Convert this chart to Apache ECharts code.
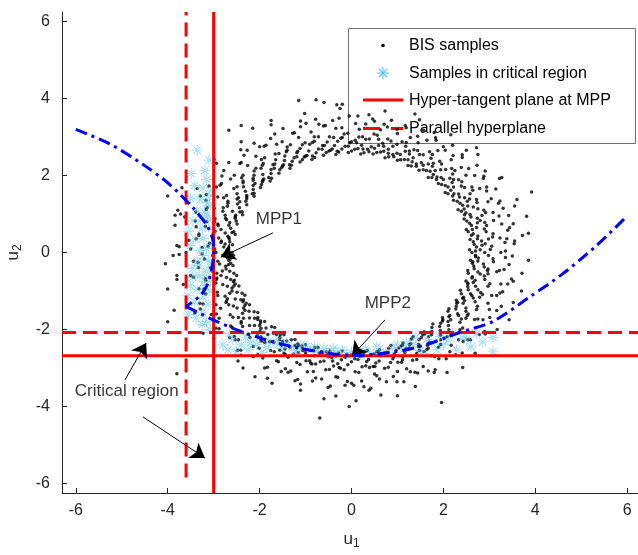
<!DOCTYPE html>
<html>
<head>
<meta charset="utf-8">
<script src="https://cdn.jsdelivr.net/npm/echarts@6/dist/echarts.min.js"></script>
<style>
  html, body { margin: 0; padding: 0; background: #fff; }
  #chart { width: 638px; height: 555px; }
</style>
</head>
<body>
<div id="chart"></div>
<script>
var axisTicks = [-6, -4, -2, 0, 2, 4, 6];

// BIS samples (u1, u2)
var bisSamples = [
  [2.62,0],[2.9,0],[3.25,0],[2.72,0.14],[3.05,0.16],[2.65,0.28],[2.83,0.30],[3.38,0.36],
  [2.75,0.43],[3.08,0.49],[2.54,0.54],[2.89,0.61],[3.52,0.75],[2.61,0.70],[2.90,0.78],[3.09,0.83],
  [2.51,0.82],[2.74,0.89],[2.58,0.99],[2.88,1.10],[3.60,1.38],[2.39,1.07],[2.65,1.18],[2.97,1.32],
  [2.42,1.23],[2.72,1.38],[2.30,1.33],[2.46,1.42],[2.94,1.70],[2.33,1.52],[2.62,1.70],
  [2.10,1.53],[2.39,1.73],[2.91,2.12],[2.10,1.70],[2.33,1.89],[2.49,2.01],[1.96,1.77],[2.14,1.93],
  [1.95,1.95],[2.18,2.18],[2.72,2.72],[1.75,1.95],[1.94,2.15],[2.17,2.41],[1.71,2.11],[1.92,2.37],
  [1.56,2.15],[1.67,2.30],[2.00,2.75],[1.52,2.33],[1.70,2.62],[1.30,2.25],[1.48,2.55],[1.80,3.12],
  [1.23,2.41],[1.36,2.67],[1.45,2.85],[1.07,2.41],[1.17,2.63],[0.99,2.58],[1.10,2.88],[1.38,3.60],
  [0.81,2.49],[0.90,2.76],[1.00,3.09],[0.70,2.63],[0.79,2.95],[0.55,2.60],[0.59,2.78],[0.71,3.33],
  [0.43,2.75],[0.49,3.08],[0.27,2.59],[0.31,2.94],[0.38,3.58],[0.14,2.70],[0.16,3.00],[0.17,3.20],
  [0,2.64],[0,2.88],[-0.14,2.76],[-0.16,3.08],[-0.20,3.85],[-0.28,2.61],[-0.30,2.89],[-0.34,3.23],
  [-0.42,2.69],[-0.48,3.01],[-0.55,2.60],[-0.59,2.78],[-0.71,3.33],[-0.72,2.69],[-0.81,3.01],
  [-0.80,2.47],[-0.91,2.81],[-1.11,3.42],[-0.97,2.52],[-1.07,2.80],[-1.15,2.99],[-1.07,2.41],[-1.17,2.63],
  [-1.25,2.46],[-1.40,2.74],[-1.75,3.43],[-1.31,2.27],[-1.45,2.51],[-1.63,2.81],[-1.48,2.28],[-1.66,2.56],
  [-1.56,2.15],[-1.67,2.30],[-2.00,2.75],[-1.75,2.16],[-1.96,2.42],[-1.74,1.93],[-1.97,2.19],[-2.41,2.67],
  [-1.91,1.91],[-2.12,2.12],[-2.26,2.26],[-1.96,1.77],[-2.14,1.93],[-2.14,1.74],[-2.39,1.94],[-2.99,2.42],
  [-2.12,1.54],[-2.35,1.71],[-2.63,1.91],[-2.28,1.48],[-2.56,1.66],[-2.30,1.33],[-2.46,1.42],[-2.94,1.70],
  [-2.48,1.26],[-2.78,1.42],[-2.38,1.06],[-2.70,1.20],[-3.29,1.47],[-2.52,0.97],[-2.80,1.07],[-2.99,1.15],
  [-2.51,0.82],[-2.74,0.89],[-2.67,0.71],[-2.98,0.80],[-3.72,1.00],[-2.56,0.54],[-2.84,0.60],[-3.18,0.68],
  [-2.69,0.42],[-3.01,0.48],[-2.65,0.28],[-2.83,0.30],[-3.38,0.36],[-2.78,0.14],[-3.12,0.16],
  [-2.60,0],[-2.95,0],[-3.60,0],[-2.70,-0.14],[-3.00,-0.16],[-3.20,-0.17],[-2.63,-0.28],[-2.87,-0.30],
  [-2.73,-0.43],[-3.04,-0.48],[-3.80,-0.60],[-2.56,-0.54],[-2.84,-0.60],[-3.18,-0.68],[-2.63,-0.70],[-2.95,-0.79],
  [-2.53,-0.82],[-2.70,-0.88],[-3.23,-1.05],[-2.60,-1.00],[-2.91,-1.12],[-2.38,-1.06],[-2.70,-1.20],[-3.29,-1.47],
  [-2.41,-1.23],[-2.67,-1.36],[-2.85,-1.45],[-2.29,-1.32],[-2.49,-1.44],[-2.32,-1.50],[-2.58,-1.68],[-3.23,-2.10],
  [-2.12,-1.54],[-2.35,-1.71],[-2.63,-1.91],[-2.11,-1.71],[-2.37,-1.92],[-1.98,-1.78],[-2.11,-1.90],[-2.53,-2.27],
  [-1.97,-1.97],[-2.21,-2.21],[-1.74,-1.93],[-1.97,-2.19],[-2.41,-2.67],[-1.70,-2.10],[-1.89,-2.33],[-2.01,-2.49],
  [-1.55,-2.14],[-1.69,-2.33],[-1.50,-2.32],[-1.68,-2.58],[-2.10,-3.23],[-1.31,-2.27],[-1.45,-2.51],[-1.63,-2.81],
  [-1.23,-2.42],[-1.38,-2.72],[-1.08,-2.43],[-1.16,-2.60],[-1.38,-3.11],[-1.00,-2.60],[-1.12,-2.91],
  [-0.80,-2.47],[-0.91,-2.81],[-1.11,-3.42],[-0.70,-2.61],[-0.78,-2.90],[-0.83,-3.09],[-0.55,-2.58],[-0.60,-2.82],
  [-0.43,-2.73],[-0.48,-3.04],[-0.60,-3.80],[-0.28,-2.61],[-0.30,-2.89],[-0.34,-3.23],[-0.14,-2.72],[-0.16,-3.05],
  [0,-2.66],[0,-2.84],[0,-3.40],[0.14,-2.78],[0.16,-3.12],[0.27,-2.59],[0.31,-2.94],[0.38,-3.58],
  [0.42,-2.67],[0.47,-2.96],[0.50,-3.16],[0.55,-2.58],[0.60,-2.82],[0.71,-2.67],[0.80,-2.98],[1.00,-3.72],
  [0.81,-2.49],[0.90,-2.76],[1.00,-3.09],[0.97,-2.54],[1.09,-2.85],[1.08,-2.43],[1.16,-2.60],[1.38,-3.11],
  [1.26,-2.48],[1.42,-2.78],[1.30,-2.25],[1.48,-2.55],[1.80,-3.12],[1.47,-2.27],[1.64,-2.52],[1.74,-2.68],
  [1.55,-2.14],[1.69,-2.33],[1.74,-2.14],[1.94,-2.39],[2.42,-2.99],[1.75,-1.95],[1.94,-2.15],[2.17,-2.41],
  [1.92,-1.92],[2.16,-2.16],[1.98,-1.78],[2.11,-1.90],[2.53,-2.27],[2.16,-1.75],[2.42,-1.96],
  [2.10,-1.53],[2.39,-1.73],[2.91,-2.12],[2.27,-1.47],[2.52,-1.64],[2.68,-1.74],[2.29,-1.32],[2.49,-1.44],
  [2.46,-1.25],[2.74,-1.40],[3.43,-1.75],[2.39,-1.07],[2.65,-1.18],[2.97,-1.32],[2.54,-0.97],[2.85,-1.09],
  [2.53,-0.82],[2.70,-0.88],[3.23,-1.05],[2.69,-0.72],[3.01,-0.81],[2.54,-0.54],[2.89,-0.61],[3.52,-0.75],
  [2.67,-0.42],[2.96,-0.47],[3.16,-0.50],[2.63,-0.28],[2.87,-0.30],[2.76,-0.14],[3.08,-0.16],[3.85,-0.20],
  [2.57,0.07],[2.80,0.07],[3.02,0.08],[2.67,0.21],[2.91,0.23],[3.34,0.26],[2.58,0.34],[2.74,0.36],[3.07,0.40],
  [2.65,0.49],[2.93,0.54],[3.44,0.64],[2.50,0.60],[2.72,0.65],[2.94,0.70],[2.57,0.76],[2.80,0.83],[3.21,0.95],
  [2.45,0.87],[2.60,0.92],[2.92,1.03],[2.49,1.03],[2.75,1.14],[3.23,1.34],[2.32,1.11],[2.53,1.21],[2.73,1.30],
  [2.36,1.28],[2.57,1.39],[2.94,1.60],[2.22,1.36],[2.35,1.44],[2.64,1.62],[2.23,1.53],[2.46,1.69],[2.88,1.98],
  [2.04,1.56],[2.22,1.70],[2.40,1.84],[2.04,1.74],[2.22,1.90],[2.55,2.18],[1.89,1.79],[2.00,1.90],[2.25,2.13],
  [1.86,1.96],[2.05,2.16],[2.41,2.54],[1.67,1.95],[1.82,2.13],[1.96,2.30],[1.63,2.13],[1.78,2.32],[2.04,2.66],
  [1.47,2.14],[1.56,2.27],[1.76,2.55],[1.41,2.30],[1.56,2.54],[1.83,2.98],[1.23,2.26],[1.34,2.46],[1.44,2.65],
  [1.15,2.42],[1.26,2.64],[1.44,3.02],[1.00,2.40],[1.06,2.55],[1.19,2.86],[0.90,2.55],[0.99,2.81],[1.17,3.30],
  [0.73,2.46],[0.80,2.68],[0.86,2.90],[0.63,2.61],[0.68,2.84],[0.78,3.26],[0.47,2.56],[0.50,2.71],[0.56,3.05],
  [0.35,2.68],[0.39,2.95],[0.46,3.47],[0.20,2.56],[0.22,2.79],[0.24,3.01],[0.07,2.68],[0.08,2.92],[0.09,3.35],
  [-0.07,2.60],[-0.07,2.76],[-0.08,3.10],[-0.21,2.69],[-0.23,2.97],[-0.27,3.49],[-0.34,2.55],[-0.37,2.78],[-0.39,2.99],
  [-0.49,2.64],[-0.53,2.87],[-0.61,3.29],[-0.61,2.53],[-0.64,2.68],[-0.72,3.01],[-0.77,2.59],[-0.85,2.86],[-0.99,3.36],
  [-0.86,2.42],[-0.93,2.64],[-1.01,2.85],[-1.03,2.48],[-1.12,2.70],[-1.28,3.10],[-1.12,2.35],[-1.19,2.49],[-1.33,2.80],
  [-1.29,2.37],[-1.42,2.62],[-1.67,3.08],[-1.34,2.19],[-1.46,2.39],[-1.58,2.57],[-1.52,2.21],[-1.65,2.41],[-1.90,2.76],
  [-1.58,2.06],[-1.68,2.19],[-1.89,2.46],[-1.75,2.05],[-1.94,2.27],[-2.27,2.66],[-1.77,1.86],[-1.93,2.03],[-2.08,2.19],
  [-1.94,1.84],[-2.12,2.01],[-2.43,2.31],[-1.98,1.69],[-2.10,1.79],[-2.36,2.01],[-2.14,1.64],[-2.36,1.81],[-2.78,2.13],
  [-2.12,1.46],[-2.31,1.59],[-2.49,1.71],[-2.28,1.40],[-2.49,1.53],[-2.86,1.75],[-2.28,1.24],[-2.43,1.32],[-2.72,1.48],
  [-2.44,1.16],[-2.69,1.28],[-3.16,1.51],[-2.37,0.98],[-2.59,1.07],[-2.79,1.16],[-2.53,0.89],[-2.75,0.97],[-3.16,1.12],
  [-2.49,0.74],[-2.65,0.78],[-2.97,0.88],[-2.63,0.63],[-2.90,0.70],[-3.40,0.82],[-2.53,0.47],[-2.75,0.51],[-2.97,0.55],
  [-2.66,0.35],[-2.89,0.38],[-3.32,0.44],[-2.59,0.20],[-2.75,0.22],[-3.09,0.24],[-2.70,0.07],[-2.98,0.08],[-3.50,0.09],
  [-2.57,-0.07],[-2.80,-0.07],[-3.02,-0.08],[-2.67,-0.21],[-2.91,-0.23],[-3.34,-0.26],[-2.58,-0.34],[-2.74,-0.36],[-3.07,-0.40],
  [-2.65,-0.49],[-2.93,-0.54],[-3.44,-0.64],[-2.50,-0.60],[-2.72,-0.65],[-2.94,-0.70],[-2.57,-0.76],[-2.80,-0.83],[-3.21,-0.95],
  [-2.45,-0.87],[-2.60,-0.92],[-2.92,-1.03],[-2.49,-1.03],[-2.75,-1.14],[-3.23,-1.34],[-2.32,-1.11],[-2.53,-1.21],[-2.73,-1.30],
  [-2.36,-1.28],[-2.57,-1.39],[-2.94,-1.60],[-2.22,-1.36],[-2.35,-1.44],[-2.64,-1.62],[-2.23,-1.53],[-2.46,-1.69],[-2.88,-1.98],
  [-2.04,-1.56],[-2.22,-1.70],[-2.40,-1.84],[-2.04,-1.74],[-2.22,-1.90],[-2.55,-2.18],[-1.89,-1.79],[-2.00,-1.90],[-2.25,-2.13],
  [-1.86,-1.96],[-2.05,-2.16],[-2.41,-2.54],[-1.67,-1.95],[-1.82,-2.13],[-1.96,-2.30],[-1.63,-2.13],[-1.78,-2.32],[-2.04,-2.66],
  [-1.47,-2.14],[-1.56,-2.27],[-1.76,-2.55],[-1.41,-2.30],[-1.56,-2.54],[-1.83,-2.98],[-1.23,-2.26],[-1.34,-2.46],[-1.44,-2.65],
  [-1.15,-2.42],[-1.26,-2.64],[-1.44,-3.02],[-1.00,-2.40],[-1.06,-2.55],[-1.19,-2.86],[-0.90,-2.55],[-0.99,-2.81],[-1.17,-3.30],
  [-0.73,-2.46],[-0.80,-2.68],[-0.86,-2.90],[-0.63,-2.61],[-0.68,-2.84],[-0.78,-3.26],[-0.47,-2.56],[-0.50,-2.71],[-0.56,-3.05],
  [-0.35,-2.68],[-0.39,-2.95],[-0.46,-3.47],[-0.20,-2.56],[-0.22,-2.79],[-0.24,-3.01],[-0.07,-2.68],[-0.08,-2.92],[-0.09,-3.35],
  [0.07,-2.60],[0.07,-2.76],[0.08,-3.10],[0.21,-2.69],[0.23,-2.97],[0.27,-3.49],[0.34,-2.55],[0.37,-2.78],[0.39,-2.99],
  [0.49,-2.64],[0.53,-2.87],[0.61,-3.29],[0.61,-2.53],[0.64,-2.68],[0.72,-3.01],[0.77,-2.59],[0.85,-2.86],[0.99,-3.36],
  [0.86,-2.42],[0.93,-2.64],[1.01,-2.85],[1.03,-2.48],[1.12,-2.70],[1.28,-3.10],[1.12,-2.35],[1.19,-2.49],[1.33,-2.80],
  [1.29,-2.37],[1.42,-2.62],[1.67,-3.08],[1.34,-2.19],[1.46,-2.39],[1.58,-2.57],[1.52,-2.21],[1.65,-2.41],[1.90,-2.76],
  [1.58,-2.06],[1.68,-2.19],[1.89,-2.46],[1.75,-2.05],[1.94,-2.27],[2.27,-2.66],[1.77,-1.86],[1.93,-2.03],[2.08,-2.19],
  [1.94,-1.84],[2.12,-2.01],[2.43,-2.31],[1.98,-1.69],[2.10,-1.79],[2.36,-2.01],[2.14,-1.64],[2.36,-1.81],[2.78,-2.13],
  [2.12,-1.46],[2.31,-1.59],[2.49,-1.71],[2.28,-1.40],[2.49,-1.53],[2.86,-1.75],[2.28,-1.24],[2.43,-1.32],[2.72,-1.48],
  [2.44,-1.16],[2.69,-1.28],[3.16,-1.51],[2.37,-0.98],[2.59,-1.07],[2.79,-1.16],[2.53,-0.89],[2.75,-0.97],[3.16,-1.12],
  [2.49,-0.74],[2.65,-0.78],[2.97,-0.88],[2.63,-0.63],[2.90,-0.70],[3.40,-0.82],[2.53,-0.47],[2.75,-0.51],[2.97,-0.55],
  [2.66,-0.35],[2.89,-0.38],[3.32,-0.44],[2.59,-0.20],[2.75,-0.22],[3.09,-0.24],[2.70,-0.07],[2.98,-0.08],[3.50,-0.09],
  [2.70,0.04],[3.35,0.04],[2.84,0.19],[3.54,0.23],[2.98,0.35],[3.23,0.38],[3.72,0.44],[2.61,0.45],[3.40,0.58],
  [2.63,0.60],[3.27,0.74],[2.74,0.77],[3.42,0.96],[2.84,0.96],[3.08,1.04],[3.55,1.21],[2.46,0.98],[3.20,1.28],
  [2.45,1.13],[3.04,1.40],[2.52,1.33],[3.14,1.65],[2.58,1.53],[2.79,1.66],[3.22,1.92],[2.20,1.47],[2.87,1.92],
  [2.16,1.62],[2.68,2.00],[2.19,1.82],[2.73,2.27],[2.20,2.04],[2.39,2.21],[2.75,2.55],[1.85,1.90],[2.41,2.47],
  [1.78,2.03],[2.21,2.52],[1.76,2.24],[2.20,2.79],[1.73,2.45],[1.88,2.65],[2.16,3.06],[1.41,2.24],[1.84,2.92],
  [1.32,2.36],[1.64,2.92],[1.26,2.56],[1.57,3.18],[1.18,2.76],[1.28,2.99],[1.48,3.45],[0.92,2.49],[1.19,3.24],
  [0.80,2.58],[0.99,3.20],[0.70,2.76],[0.87,3.44],[0.59,2.94],[0.63,3.19],[0.73,3.68],[0.38,2.62],[0.50,3.41],
  [0.25,2.69],[0.31,3.34],[0.11,2.85],[0.14,3.55],
  [-0.04,2.85],[-0.05,3.55],[-0.20,2.99],[-0.21,3.24],[-0.25,3.74],[-0.31,2.63],[-0.41,3.43],[-0.46,2.66],[-0.57,3.30],
  [-0.63,2.78],[-0.78,3.46],[-0.81,2.89],[-0.88,3.13],[-1.02,3.61],[-0.85,2.51],[-1.11,3.27],[-1.00,2.51],[-1.24,3.11],
  [-1.19,2.59],[-1.49,3.22],[-1.40,2.66],[-1.51,2.88],[-1.75,3.32],[-1.35,2.28],[-1.76,2.96],[-1.50,2.25],[-1.86,2.79],
  [-1.71,2.28],[-2.12,2.84],[-1.92,2.31],[-2.08,2.50],[-2.40,2.88],[-1.80,1.95],[-2.34,2.53],[-1.93,1.88],[-2.40,2.34],
  [-2.14,1.88],[-2.67,2.34],[-2.36,1.86],[-2.55,2.01],[-2.94,2.32],[-2.16,1.53],[-2.82,1.99],[-2.28,1.44],[-2.83,1.79],
  [-2.49,1.39],[-3.10,1.73],[-2.69,1.33],[-2.91,1.44],[-3.36,1.66],[-2.43,1.05],[-3.17,1.36],[-2.53,0.93],[-3.14,1.16],
  [-2.72,0.85],[-3.39,1.05],[-2.91,0.74],[-3.15,0.80],[-3.63,0.92],[-2.60,0.52],[-3.38,0.67],[-2.67,0.39],[-3.32,0.48],
  [-2.84,0.26],[-3.54,0.32],[-3.00,0.12],[-3.25,0.13],[-3.75,0.15],
  [-3.00,-0.04],[-3.25,-0.04],[-3.75,-0.05],[-2.64,-0.17],[-3.44,-0.23],[-2.68,-0.32],[-3.33,-0.39],[-2.81,-0.48],[-3.50,-0.60],
  [-2.93,-0.66],[-3.17,-0.72],[-3.66,-0.83],[-2.55,-0.72],[-3.32,-0.94],[-2.56,-0.87],[-3.17,-1.08],[-2.65,-1.06],[-3.30,-1.32],
  [-2.72,-1.26],[-2.95,-1.36],[-3.41,-1.57],[-2.35,-1.23],[-3.05,-1.61],[-2.32,-1.38],[-2.88,-1.71],[-2.37,-1.58],[-2.95,-1.97],
  [-2.40,-1.79],[-2.60,-1.94],[-3.00,-2.24],[-2.04,-1.69],[-2.65,-2.21],[-1.98,-1.83],[-2.46,-2.27],[-1.99,-2.04],[-2.48,-2.54],
  [-1.98,-2.26],[-2.14,-2.44],[-2.47,-2.82],[-1.64,-2.08],[-2.14,-2.71],[-1.56,-2.20],[-1.93,-2.74],[-1.52,-2.41],[-1.89,-3.00],
  [-1.47,-2.62],[-1.59,-2.84],[-1.83,-3.27],[-1.17,-2.38],[-1.53,-3.09],[-1.07,-2.48],[-1.32,-3.08],[-0.99,-2.67],[-1.23,-3.33],
  [-0.89,-2.87],[-0.96,-3.10],[-1.11,-3.58],[-0.65,-2.57],[-0.85,-3.34],[-0.53,-2.65],[-0.65,-3.29],[-0.41,-2.82],[-0.51,-3.51],
  [-0.27,-2.99],[-0.30,-3.24],[-0.34,-3.73],[-0.10,-2.65],[-0.14,-3.45],
  [0.03,-2.65],[0.05,-3.45],[0.18,-2.69],[0.22,-3.34],[0.33,-2.83],[0.42,-3.53],[0.51,-2.96],[0.55,-3.20],[0.64,-3.70],
  [0.58,-2.58],[0.76,-3.36],[0.73,-2.60],[0.91,-3.22],[0.92,-2.70],[1.14,-3.36],[1.11,-2.79],[1.20,-3.02],[1.39,-3.48],
  [1.11,-2.41],[1.44,-3.13],[1.26,-2.39],[1.56,-2.96],[1.46,-2.45],[1.82,-3.05],[1.67,-2.49],[1.81,-2.70],[2.08,-3.12],
  [1.59,-2.12],[2.06,-2.76],[1.73,-2.08],[2.14,-2.58],[1.93,-2.09],[2.41,-2.61],[2.15,-2.09],[2.33,-2.27],[2.69,-2.62],
  [1.99,-1.75],[2.59,-2.27],[2.12,-1.67],[2.63,-2.07],[2.33,-1.64],[2.90,-2.05],[2.54,-1.60],[2.75,-1.73],[3.17,-2.00],
  [2.31,-1.29],[3.01,-1.69],[2.42,-1.19],[3.00,-1.48],[2.62,-1.12],[3.26,-1.40],[2.81,-1.04],[3.05,-1.12],[3.52,-1.30],
  [2.53,-0.79],[3.29,-1.02],[2.62,-0.66],[3.25,-0.82],[2.80,-0.56],[3.48,-0.69],[2.97,-0.43],[3.22,-0.47],[3.71,-0.54],
  [2.64,-0.24],[3.43,-0.31],[2.70,-0.11],[3.35,-0.13],
  [-1.15,3.95],[-0.77,3.97],[-0.6,3.9],[-0.32,3.84],[-2.67,3.18],[-2.4,3.3],[-2.15,3.23],[-4.0,-1.8],
  [-3.86,-1.5],[-3.8,-0.7],[-3.8,-3.15],[-0.05,-4.0],[1.96,-3.9],[-0.69,-4.3],[-1.73,-3.4],[-2.36,-3.0],
  [0.1,-3.85],[3.3,1.15],[2.5,2.66],[3.55,0.3],[3.85,0.5],[3.7,-1.0],[3.92,1.57],[3.81,0.94],[3.27,1.95],
  [-3.84,0.97],[-3.8,0.18],[-3.69,1.68],[-4.0,1.47],[-4.05,-0.29],[-3.88,-0.08],[-4.0,-0.95],[-3.78,1.1],[-3.84,0.71]
];

// samples in critical region
var criticalSamples = [
  [-3.36,2.66],[-3.49,2.05],[-3.19,2.13],[-3.41,1.74],[-3.23,1.68],[-3.3,1.37],[-3.15,1.29],[-3.13,0.97],
  [-3.36,1.1],[-3.45,0.82],[-3.51,0.18],[-3.25,0.63],[-3.23,0.37],[-3.15,0.1],[-3.36,-0.24],[-3.23,-0.08],
  [-3.47,-0.42],[-3.3,-0.6],[-3.15,-0.5],[-3.51,-0.87],[-3.36,-0.95],[-3.19,-0.87],[-3.56,-1.13],[-3.41,-1.29],
  [-3.23,-1.16],[-3.25,-1.55],[-3.15,-1.79],[-3.08,-2.0],[-3.25,-1.87],[-3.15,1.9],[-3.08,1.21],[-3.04,0.63],
  [-3.05,-0.3],[-3.08,-1.0],[-3.5,1.4],[-3.55,0.55],[-3.1,2.4],[-3.06,1.6],[-3.1,0.85],[-3.05,0.2],
  [-3.12,-0.2],[-3.07,-0.7],[-3.12,-1.35],[-3.4,0.35],[-3.3,0.05],[-3.45,-0.65],[-3.55,-1.6],[-3.38,-1.7],
  [-3.2,1.05],[-3.28,0.85],[-3.1,1.45],[-3.32,-0.35],[-3.2,-0.75],
  [-2.69,-2.53],[-2.5,-2.58],[-2.58,-2.26],[-2.25,-2.53],[-2.06,-2.39],[-1.84,-2.47],[-1.6,-2.26],[-1.41,-2.34],
  [-1.19,-2.53],[-0.98,-2.45],[-0.76,-2.58],[-0.54,-2.61],[-0.32,-2.63],[-0.1,-2.66],[-2.65,-2.1],[-2.3,-2.2],
  [-1.8,-2.3],[-2.0,-2.2],[-1.3,-2.45],[-1.5,-2.5],[-0.9,-2.55],[-1.1,-2.4],[-0.6,-2.5],[0.4,-2.61],
  [0.9,-2.47],[1.34,-2.39],[1.64,-2.26],[1.92,-2.18],[1.86,-2.53],[2.29,-2.53],[2.51,-2.26],[2.86,-2.32],
  [3.08,-2.21],[3.08,-2.58],[2.72,-2.1],[2.2,-2.1],[1.12,-2.53],[0.62,-2.58],[0.2,-2.66],[1.5,-2.55],
  [2.0,-2.4],[2.4,-2.2],[1.2,-2.35],[0.0,-2.6],[-0.2,-2.55],[0.3,-2.5],[0.75,-2.6],[1.0,-2.4],
  [1.4,-2.2],[1.75,-2.35],[-0.4,-2.5],[-0.8,-2.45],[-1.6,-2.4],[-1.95,-2.6],[-2.4,-2.4],[-2.2,-2.35],
  [-1.2,-2.62],[-0.45,-2.66],[0.55,-2.45],[1.6,-2.62],[2.1,-2.28],[2.6,-2.45],[-2.8,-2.4]
];

// limit state curves
var limitStateUpper = [
  [-6.0,3.2],[-5.26,2.82],[-4.54,2.29],[-3.95,1.76],[-3.45,1.16],[-3.15,0.71],[-3.01,0.29],[-3.0,0],
  [-3.04,-0.42],[-3.15,-0.87],[-3.3,-1.13],[-3.6,-1.4]
];
var limitStateLower = [
  [-3.6,-1.4],[-3.08,-1.71],[-2.58,-1.97],[-2.0,-2.22],[-1.28,-2.45],[-0.54,-2.61],[0,-2.68],
  [0.95,-2.58],[1.64,-2.39],[2.35,-2.08],[3.08,-1.79],[3.87,-1.16],[4.6,-0.55],[5.33,0.18],[6.0,0.95]
];

// tangent planes at MPP and parallel hyperplanes
var tangentU1 = -3.0;
var tangentU2 = -2.68;
var parallelU1 = -3.6;
var parallelU2 = -2.08;

var annotations = [
  { name: 'MPP1', value: [-1.58, 0.85] },
  { name: 'MPP2', value: [0.79, -1.31] },
  { name: 'Critical region', value: [-4.89, -3.62] }
];
var arrows = [
  [[-1.71, 0.51], [-2.84, -0.12]],
  [[0.73, -1.75], [0.01, -2.69]],
  [[-4.93, -3.31], [-4.47, -2.35]],
  [[-4.54, -4.27], [-3.19, -5.34]]
];

var font = 'Liberation Sans, Arial, sans-serif';
var starPath = 'path://M0,9.3L20,9.3L20,10.7L0,10.7Z M9.3,0L10.7,0L10.7,20L9.3,20Z ' +
  'M2.5,3.5L16.5,17.5L17.5,16.5L3.5,2.5Z M3.5,17.5L17.5,3.5L16.5,2.5L2.5,16.5Z';
var starColor = 'rgba(77,190,238,0.85)';

var myChart = echarts.init(document.getElementById('chart'));

function redLine(name, data, type) {
  return {
    name: name,
    type: 'line',
    data: data,
    symbol: 'none',
    silent: true,
    z: 4,
    lineStyle: { color: '#ff0000', width: 3, type: type }
  };
}

function blueCurve(data) {
  return {
    type: 'line',
    data: data,
    symbol: 'none',
    smooth: 0.3,
    silent: true,
    z: 5,
    lineStyle: { color: '#0000ff', width: 3, type: [12, 5, 3, 5] }
  };
}

var axisCommon = {
  type: 'value',
  axisLine: { show: true, onZero: false, lineStyle: { color: '#262626', width: 1 } },
  axisTick: { show: true, inside: true, length: 5, customValues: axisTicks, lineStyle: { color: '#262626' } },
  axisLabel: { customValues: axisTicks, color: '#262626', fontSize: 16, fontFamily: font },
  splitLine: { show: false },
  nameLocation: 'middle',
  nameTextStyle: {
    color: '#262626', fontSize: 17, fontFamily: font,
    rich: { s: { fontSize: 12, fontFamily: font, color: '#262626', padding: [9, 0, 0, 0] } }
  }
};

var option = {
  animation: false,
  backgroundColor: '#fff',
  grid: { left: 62, right: -3, top: 12, bottom: 62, containLabel: false, outerBoundsMode: 'none' },
  xAxis: Object.assign({}, axisCommon, {
    min: -6.3, max: 6.3, name: 'u{s|1}', nameGap: 36,
    axisLabel: Object.assign({}, axisCommon.axisLabel, { margin: 10 })
  }),
  yAxis: Object.assign({}, axisCommon, {
    min: -6.25, max: 6.25, name: 'u{s|2}', nameGap: 38,
    axisLabel: Object.assign({}, axisCommon.axisLabel, { margin: 12 })
  }),
  series: [
    {
      name: 'BIS samples',
      type: 'scatter',
      data: bisSamples,
      symbol: 'circle',
      symbolSize: 3.5,
      large: false,
      silent: true,
      z: 2,
      itemStyle: { color: '#000' }
    },
    {
      name: 'Samples in critical region',
      type: 'scatter',
      data: criticalSamples,
      symbol: starPath,
      symbolSize: 11,
      silent: true,
      z: 3,
      itemStyle: { color: starColor }
    },
    redLine('Hyper-tangent plane at MPP', [[tangentU1, -6.25], [tangentU1, 6.25]], 'solid'),
    redLine('Hyper-tangent plane at MPP', [[-6.3, tangentU2], [6.3, tangentU2]], 'solid'),
    redLine('Parallel hyperplane', [[parallelU1, -5.85], [parallelU1, 6.25]], [14, 7]),
    redLine('Parallel hyperplane', [[-6.3, parallelU2], [6.3, parallelU2]], [14, 7]),
    blueCurve(limitStateUpper),
    blueCurve(limitStateLower),
    {
      type: 'scatter',
      data: annotations,
      symbolSize: 1,
      silent: true,
      z: 6,
      itemStyle: { color: 'rgba(0,0,0,0)' },
      label: {
        show: true, position: 'inside', formatter: '{b}',
        color: '#000', fontSize: 17, fontFamily: font
      },
      markLine: {
        silent: true,
        animation: false,
        symbol: ['none', 'arrow'],
        symbolSize: 14,
        label: { show: false },
        lineStyle: { color: '#000', width: 1, type: 'solid' },
        data: arrows.map(function (a) {
          return [{ coord: a[0] }, { coord: a[1] }];
        })
      }
    }
  ],
  graphic: [
    {
      type: 'group',
      z: 20,
      children: [
        { type: 'rect', shape: { x: 348.5, y: 28.5, width: 287, height: 115 },
          style: { fill: '#fff', stroke: '#6e6e6e', lineWidth: 1 } },
        { type: 'circle', shape: { cx: 383, cy: 45.5, r: 1.8 }, style: { fill: '#000' } },
        { type: 'line', shape: { x1: 377, y1: 73, x2: 389, y2: 73 }, style: { stroke: starColor, lineWidth: 1.2 } },
        { type: 'line', shape: { x1: 383, y1: 67, x2: 383, y2: 79 }, style: { stroke: starColor, lineWidth: 1.2 } },
        { type: 'line', shape: { x1: 379, y1: 69, x2: 387, y2: 77 }, style: { stroke: starColor, lineWidth: 1.2 } },
        { type: 'line', shape: { x1: 379, y1: 77, x2: 387, y2: 69 }, style: { stroke: starColor, lineWidth: 1.2 } },
        { type: 'line', shape: { x1: 363, y1: 100, x2: 403, y2: 100 }, style: { stroke: '#ff0000', lineWidth: 3 } },
        { type: 'line', shape: { x1: 363, y1: 128.5, x2: 403, y2: 128.5 }, style: { stroke: '#ff0000', lineWidth: 3, lineDash: [17, 11] } },
        { type: 'text', x: 409, y: 45.5, style: { text: 'BIS samples', fill: '#000', fontSize: 16, fontFamily: font, verticalAlign: 'middle' } },
        { type: 'text', x: 409, y: 73.5, style: { text: 'Samples in critical region', fill: '#000', fontSize: 16, fontFamily: font, verticalAlign: 'middle' } },
        { type: 'text', x: 409, y: 100.5, style: { text: 'Hyper-tangent plane at MPP', fill: '#000', fontSize: 16, fontFamily: font, verticalAlign: 'middle' } },
        { type: 'text', x: 409, y: 128.5, style: { text: 'Parallel hyperplane', fill: '#000', fontSize: 16, fontFamily: font, verticalAlign: 'middle' } }
      ]
    }
  ]
};

myChart.setOption(option);
</script>
</body>
</html>
